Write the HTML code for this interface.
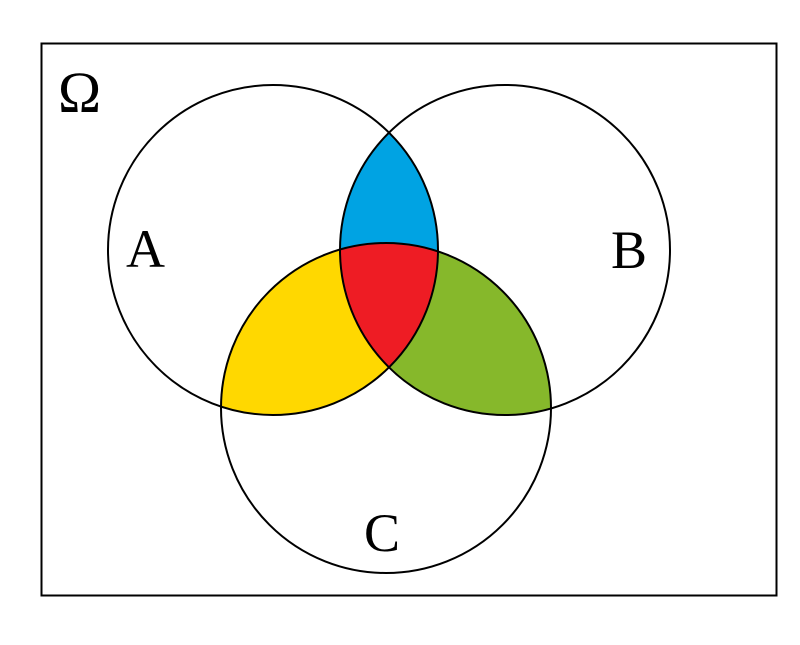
<!DOCTYPE html>
<html><head><meta charset="utf-8"><style>
html,body{margin:0;padding:0;background:#fff;}
svg{display:block;}
</style></head><body>
<svg width="800" height="645" viewBox="0 0 800 645" xmlns="http://www.w3.org/2000/svg">
<defs>
<clipPath id="cA"><circle cx="273" cy="250" r="165"/></clipPath>
<clipPath id="cB"><circle cx="505" cy="250" r="165"/></clipPath>
<clipPath id="cC"><circle cx="386" cy="408" r="165"/></clipPath>
</defs>
<rect x="0" y="0" width="800" height="645" fill="#fff"/>
<rect x="41.5" y="43.5" width="735" height="552" fill="none" stroke="#000" stroke-width="2"/>
<g clip-path="url(#cA)"><circle cx="505" cy="250" r="165" fill="#00A3E3"/></g>
<g clip-path="url(#cA)"><circle cx="386" cy="408" r="165" fill="#FFD800"/></g>
<g clip-path="url(#cB)"><circle cx="386" cy="408" r="165" fill="#86B82B"/></g>
<g clip-path="url(#cA)"><g clip-path="url(#cB)"><circle cx="386" cy="408" r="165" fill="#EE1C24"/></g></g>
<g fill="none" stroke="#000" stroke-width="2">
<circle cx="273" cy="250" r="165"/>
<circle cx="505" cy="250" r="165"/>
<circle cx="386" cy="408" r="165"/>
</g>
<g font-family="Liberation Serif, serif" fill="#000">
<text x="58" y="112" font-size="58">Ω</text>
<text x="126" y="267" font-size="54">A</text>
<text x="611" y="268" font-size="54">B</text>
<text x="364" y="551" font-size="54">C</text>
</g>
</svg>
</body></html>
